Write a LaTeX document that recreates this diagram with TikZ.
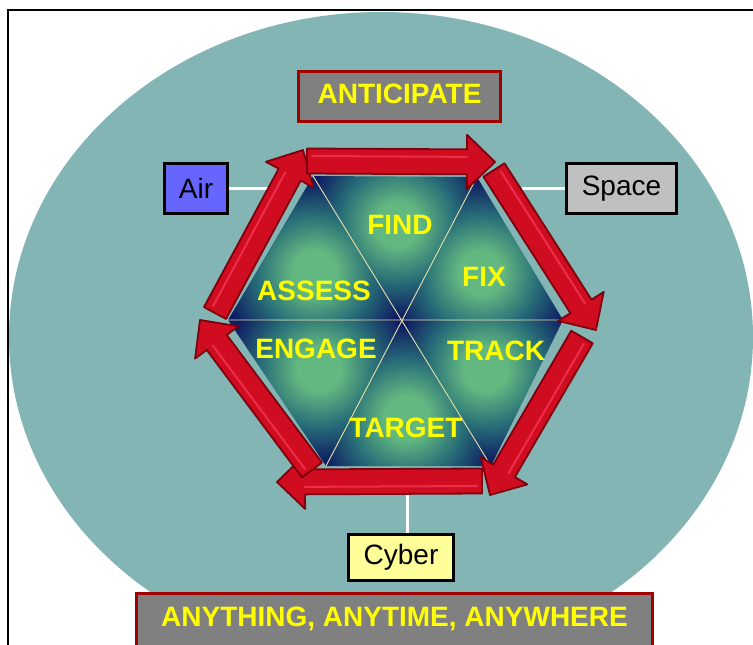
\documentclass[tikz,border=0pt]{standalone}
\usepackage{fontspec}
\setmainfont{Liberation Sans}
\usetikzlibrary{calc}
\definecolor{ellc}{RGB}{132,181,181}
\definecolor{navyc}{RGB}{14,28,98}
\definecolor{midc}{RGB}{40,110,120}
\definecolor{glowc}{RGB}{98,184,128}
\definecolor{arrowred}{RGB}{208,12,32}
\definecolor{arrowdark}{RGB}{125,0,12}
\definecolor{arrowlight}{RGB}{255,70,100}
\definecolor{boxred}{RGB}{160,0,0}
\definecolor{boxgray}{RGB}{128,128,128}
\definecolor{labyellow}{RGB}{255,255,0}
\definecolor{airblue}{RGB}{102,102,255}
\definecolor{spacegray}{RGB}{192,192,192}
\definecolor{cyberyellow}{RGB}{255,255,153}
\definecolor{linec}{RGB}{232,226,165}
\pgfdeclareradialshading{triglow}{\pgfpoint{0bp}{0bp}}{color(0bp)=(glowc); color(5bp)=(glowc); color(13bp)=(midc); color(21bp)=(navyc); color(50bp)=(navyc)}
\newcommand\hexarrow[2]{%
  \path ($(#2)!28pt!(#1)$) coordinate (hb);
  \draw[redarrow] ($(#1)!12.5pt!-90:(#2)$) -- ($(hb)!12.5pt!-90:(#2)$) -- ($(hb)!27pt!-90:(#2)$) -- (#2)
     -- ($(hb)!27pt!90:(#2)$) -- ($(hb)!12.5pt!90:(#2)$) -- ($(#1)!12.5pt!90:(#2)$) -- cycle;
  \draw[arrowlight, line width=2pt, line cap=round, opacity=0.6] ($($(#1)!5pt!(#2)$)!5pt!90:(#2)$) -- ($(hb)!5pt!90:(#2)$);
}
\tikzset{
  redarrow/.style={fill=arrowred, draw=arrowdark, line width=1.8pt, line join=round},
  banner/.style={fill=boxgray, draw=boxred, line width=3pt, text=labyellow, inner sep=0pt,
    font=\bfseries\fontsize{28}{30}\selectfont},
  sidebox/.style={draw=black, line width=3pt, inner sep=0pt, text=black,
    font=\fontsize{28}{30}\selectfont},
  hexlabel/.style={text=labyellow, inner sep=0pt, font=\bfseries\fontsize{28}{30}\selectfont},
  link/.style={draw=white, line width=3pt}
}
\begin{document}
\begin{tikzpicture}[x=1pt,y=1pt]
\useasboundingbox (0,0) rectangle (753,-645);
\fill[white] (0,0) rectangle (753,-645);
\begin{scope}
  \clip (0,0) rectangle (753,-645);
  \fill[ellc] (381,-337) ellipse [x radius=372, y radius=325];
\end{scope}
\draw[line width=2pt] (8,-645) -- (8,-10) -- (753,-10);

% hexagon vertices
\coordinate (O) at (402,-321);
\coordinate (TL) at (313,-176);
\coordinate (TR) at (477,-177);
\coordinate (R) at (563,-320);
\coordinate (BR) at (491,-466);
\coordinate (BL) at (326,-466);
\coordinate (L) at (228,-320);

\foreach \a/\b in {TL/TR,TR/R,R/BR,BR/BL,BL/L,L/TL}{
  \begin{scope}
    \clip (O) -- (\a) -- (\b) -- cycle;
    \shade[shading=triglow] ($($(\a)!0.5!(\b)$)!0.3333!(O)$) circle (110);
  \end{scope}
}
\draw[linec, line width=0.9pt] (L) -- (R) (TL) -- (BR) (TR) -- (BL);

% side boxes and links
\node[sidebox, fill=airblue, minimum width=63pt, minimum height=50pt] (air) at (196,-188.5) {Air};
\node[sidebox, fill=spacegray, minimum width=110pt, minimum height=50pt] (space) at (621.5,-188.5) {Space};
\node[sidebox, fill=cyberyellow, minimum width=105pt, minimum height=46pt] (cyber) at (401,-557.5) {Cyber};
\coordinate (airend) at (268,-190);
\coordinate (spaceend) at (522,-192);
\coordinate (cyberend) at (407,-490);
\draw[link] (air.east) -- (air.east -| airend);
\draw[link] (space.west) -- (space.west -| spaceend);
\draw[link] (cyberend) -- (cyberend |- cyber.north);

% arrows
\coordinate (a1s) at (307,-161); \coordinate (a1t) at (495,-162);
\coordinate (a2s) at (494,-170); \coordinate (a2t) at (596,-330);
\coordinate (a3s) at (582,-337); \coordinate (a3t) at (490,-495);
\coordinate (a4s) at (482,-481); \coordinate (a4t) at (277,-482);
\coordinate (a5s) at (312,-470); \coordinate (a5t) at (200,-320);
\coordinate (a6s) at (215,-313); \coordinate (a6t) at (303,-150);
\hexarrow{a6s}{a6t}
\hexarrow{a1s}{a1t}
\hexarrow{a2s}{a2t}
\hexarrow{a3s}{a3t}
\hexarrow{a4s}{a4t}
\hexarrow{a5s}{a5t}

% labels
\node[hexlabel] (find) at (400,-225) {FIND};
\node[hexlabel] (fix) at (484,-277) {FIX};
\node[hexlabel] (assess) at (314,-291) {ASSESS};
\node[hexlabel] (engage) at (316,-349) {ENGAGE};
\node[hexlabel] (track) at (496,-351) {TRACK};
\node[hexlabel] (target) at (406,-428) {TARGET};

% banners
\node[banner, minimum width=202pt, minimum height=50pt, text depth=6pt] (anticipate) at (399.5,-96.5) {ANTICIPATE};
\node[banner, minimum width=516pt, minimum height=56pt, text depth=8pt] (anything) at (394.5,-621) {ANYTHING, ANYTIME, ANYWHERE};
\end{tikzpicture}
\end{document}
